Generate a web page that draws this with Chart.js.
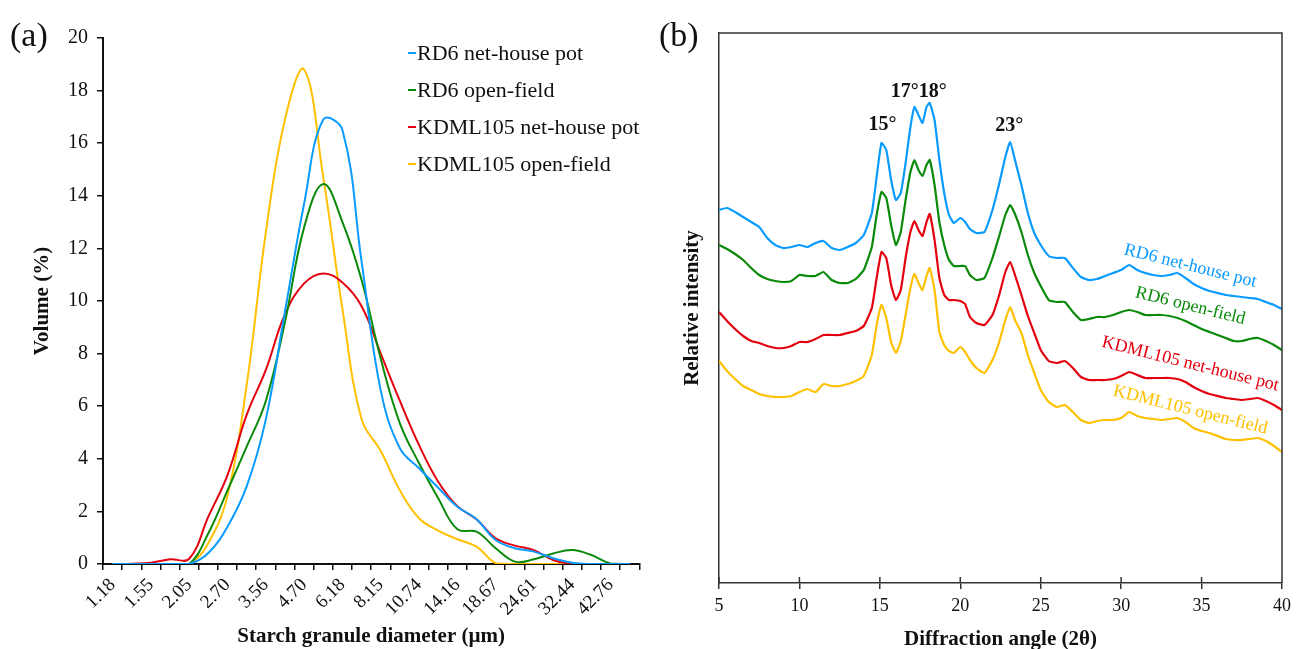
<!DOCTYPE html>
<html lang="en">
<head>
<meta charset="UTF-8">
<title>Starch granule size and XRD</title>
<script src="https://cdn.jsdelivr.net/npm/chart.js"></script>
<style>
  html, body { margin: 0; padding: 0; background: #fff; }
  body { width: 1297px; height: 649px; position: relative; overflow: hidden; font-family: "Liberation Serif", "Times New Roman", serif; }
  .panel { position: absolute; top: 0; height: 649px; }
  #pa { left: 0; width: 650px; }
  #pb { left: 650px; width: 647px; }
  .tag { position: absolute; top: 18px; font-size: 34px; line-height: 1; color: #111; }
</style>
</head>
<body>
<div class="panel" id="pa"><canvas id="chartA"></canvas></div>
<div class="panel" id="pb"><canvas id="chartB"></canvas></div>
<div class="tag" style="left:10px">(a)</div>
<div class="tag" style="left:659px">(b)</div>

<script>
// ---- (a) granule size distribution ----
const sizeLabels = ['1.18','1.35','1.55','1.78','2.05','2.35','2.70','3.10','3.56','4.09','4.70','5.39','6.18','7.10',
  '8.15','9.36','10.74','12.33','14.16','16.26','18.67','21.43','24.61','28.25','32.44','37.24','42.76','49.09'];
const rd6Pot    = [0,0,0,0,0,0.42,1.42,2.95,5.5,9.6,13.7,16.9,16.5,11.5,6.6,4.4,3.64,2.9,2.18,1.7,0.91,0.6,0.47,0.22,0.05,0,0,0];
const rd6Field  = [0,0,0,0,0,1.17,2.8,4.46,6.2,9.2,12.8,14.45,13.0,10.8,7.8,5.35,3.83,2.5,1.32,1.23,0.6,0.09,0.18,0.4,0.53,0.34,0.02,0];
const kdmlPot   = [0,0.01,0.05,0.18,0.2,1.8,3.38,5.67,7.38,9.5,10.67,11.05,10.7,9.8,8.0,6.2,4.52,3.13,2.2,1.7,0.98,0.7,0.53,0.15,0,0,0,0];
const kdmlField = [0,0,0,0,0,0.8,2.6,6.8,12.6,16.9,18.8,14.7,9.7,5.5,4.3,2.8,1.74,1.27,0.94,0.66,0.03,0,0,0,0,0,0,0];

// ---- (b) XRD patterns (arbitrary intensity units, stacked) ----
const angles = [5,5.5,6,6.5,7,7.5,8,8.5,9,9.5,10,10.5,11,11.5,12,12.5,13,13.5,14,14.5,
  14.8,15.1,15.4,15.7,16.0,16.3,16.6,16.9,17.15,17.4,17.65,17.9,18.1,18.4,18.7,19.0,19.3,19.6,
  20.0,20.3,20.6,21.0,21.5,22.0,22.4,22.8,23.1,23.4,23.8,24.2,24.6,25.0,25.5,26.0,26.5,27.0,27.5,28.0,
  28.5,29,29.5,30,30.5,31,31.5,32,32.5,33,33.5,34,34.5,35,35.5,36,36.5,37,37.5,38,38.5,39,39.5,40];
const xrdRd6Pot = [373,375,371,366,361,356,345,338,335,336,338,336,340,342,335,333,336,340,348,370,
  406,440,433,403,383,390,420,456,476,468,460,476,480,463,423,390,368,360,
  365,361,354,350,351,373,398,426,441,423,398,370,350,338,327,325,325,315,306,303,
  304,307,310,313,318,313,310,308,307,308,310,305,299,295,292,290,288,287,286,285,284,281,278,274];
const xrdRd6Field = [338,334,329,323,315,308,304,302,301,302,308,307,307,311,303,300,300,304,313,336,
  368,391,385,358,338,351,383,411,423,413,407,418,423,398,361,338,323,317,
  317,317,308,303,305,325,346,368,378,369,351,328,310,297,283,281,281,271,263,264,
  266,266,268,271,273,271,268,268,268,267,265,262,258,254,251,248,245,242,242,244,245,242,238,233];
const xrdKdmlPot = [271,262,254,247,242,240,237,235,235,237,241,241,244,248,248,248,250,252,257,275,
  305,331,325,298,283,293,325,351,362,353,347,361,369,343,305,288,283,283,
  282,279,266,260,258,268,287,311,321,308,288,267,250,233,222,220,222,215,206,203,
  203,203,204,207,211,208,205,205,205,205,204,201,196,192,189,187,185,184,183,184,185,182,178,173];
const xrdKdmlField = [222,212,204,197,193,189,187,186,186,187,191,194,191,199,197,197,199,202,207,228,
  258,278,265,241,230,242,268,295,309,300,293,307,315,293,251,238,232,230,
  236,231,223,215,210,223,240,263,276,263,250,228,210,193,181,176,178,171,163,160,
  162,163,163,165,171,167,165,164,163,164,165,161,155,152,150,147,144,143,143,144,145,142,137,131];
const angleTicks = [5,10,15,20,25,30,35,40];

const seriesNames = ['RD6 net-house pot','RD6 open-field','KDML105 net-house pot','KDML105 open-field'];
const colors = ['#0a9bff','#0a8a0a','#e3000f','#ffc000'];
const peakLabels = [
  { text: '15°', angle: 15.17, level: 458 },
  { text: '17°18°', angle: 17.42, level: 491 },
  { text: '23°', angle: 23.05, level: 457 }
];
const seriesLabelAngle = 34.3;
const seriesLabelLevels = [317, 277, 219, 173];

const serif = '"Liberation Serif", "Times New Roman", serif';

const legendA = {
  id: 'legendA',
  afterDraw(chart) {
    const { ctx, chartArea: a } = chart;
    ctx.save();
    ctx.font = '22px ' + serif;
    ctx.textBaseline = 'middle';
    chart.data.datasets.forEach((ds, i) => {
      const x = a.left + 305, y = a.top + 15 + i * 37;
      ctx.strokeStyle = ds.borderColor;
      ctx.lineWidth = 2;
      ctx.beginPath(); ctx.moveTo(x, y); ctx.lineTo(x + 8, y); ctx.stroke();
      ctx.fillStyle = '#111';
      ctx.fillText(ds.label, x + 9, y + 1);
    });
    ctx.restore();
  }
};

const boxB = {
  id: 'boxB',
  afterDraw(chart) {
    const { ctx, chartArea: a, scales: { x, y } } = chart;
    ctx.save();
    ctx.strokeStyle = '#333';
    ctx.lineWidth = 1.5;
    ctx.beginPath();
    ctx.moveTo(a.left, a.top); ctx.lineTo(a.right, a.top); ctx.lineTo(a.right, a.bottom);
    angleTicks.forEach(t => {
      const px = x.getPixelForValue(t);
      ctx.moveTo(px, a.bottom); ctx.lineTo(px, a.bottom - 6);
    });
    ctx.stroke();

    ctx.fillStyle = '#111';
    ctx.font = 'bold 20px ' + serif;
    ctx.textAlign = 'center';
    ctx.textBaseline = 'middle';
    peakLabels.forEach(p => ctx.fillText(p.text, x.getPixelForValue(p.angle), y.getPixelForValue(p.level)));

    ctx.font = '18px ' + serif;
    chart.data.datasets.forEach((ds, i) => {
      ctx.save();
      ctx.translate(x.getPixelForValue(seriesLabelAngle), y.getPixelForValue(seriesLabelLevels[i]));
      ctx.rotate(14 * Math.PI / 180);
      ctx.fillStyle = ds.borderColor;
      ctx.fillText(ds.label, 0, 0);
      ctx.restore();
    });
    ctx.restore();
  }
};

new Chart(document.getElementById('chartA'), {
  type: 'line',
  data: {
    labels: sizeLabels,
    datasets: [rd6Pot, rd6Field, kdmlPot, kdmlField].map((d, i) => ({
      label: seriesNames[i], data: d, borderColor: colors[i], borderWidth: 2,
      pointRadius: 0, tension: 0.4, fill: false
    }))
  },
  options: {
    responsive: true, maintainAspectRatio: false, animation: false,
    layout: { padding: { top: 38, right: 7, left: 0, bottom: 0 } },
    plugins: { legend: { display: false }, tooltip: { enabled: false } },
    scales: {
      x: {
        offset: true,
        grid: { offset: true, drawOnChartArea: false, tickLength: 6, color: '#111', lineWidth: 1.5 },
        border: { color: '#111', width: 2 },
        ticks: {
          autoSkip: false, minRotation: 45, maxRotation: 45, padding: 4, color: '#111',
          font: { family: serif, size: 19 },
          callback: (v, i) => (i % 2 ? '' : sizeLabels[i])
        },
        title: { display: true, text: 'Starch granule diameter (µm)', color: '#111',
          font: { family: serif, size: 21, weight: 'bold', lineHeight: 0.9 }, padding: { top: 0, bottom: 3 } },
        afterFit: s => { s.height = 85; }
      },
      y: {
        min: 0, max: 20,
        grid: { drawOnChartArea: false, tickLength: 6, color: '#111', lineWidth: 1.5 },
        border: { color: '#111', width: 2 },
        ticks: { stepSize: 2, padding: 9, color: '#111', font: { family: serif, size: 20 } },
        title: { display: true, text: 'Volume (%)', color: '#111',
          font: { family: serif, size: 21, weight: 'bold' }, padding: { top: 30, bottom: 0 } },
        afterFit: s => { s.width = 103; }
      }
    }
  },
  plugins: [legendA]
});

new Chart(document.getElementById('chartB'), {
  type: 'line',
  data: {
    datasets: [xrdRd6Pot, xrdRd6Field, xrdKdmlPot, xrdKdmlField].map((d, i) => ({
      label: seriesNames[i], data: angles.map((a, j) => ({ x: a, y: d[j] })),
      borderColor: colors[i], borderWidth: 2.2, pointRadius: 0, tension: 0.15, fill: false
    }))
  },
  options: {
    responsive: true, maintainAspectRatio: false, animation: false,
    layout: { padding: { top: 33, right: 11, left: 0, bottom: 0 } },
    plugins: { legend: { display: false }, tooltip: { enabled: false } },
    scales: {
      x: {
        type: 'linear', min: 5, max: 40,
        grid: { drawOnChartArea: false, tickLength: 6, color: '#333', lineWidth: 1.5 },
        border: { color: '#333', width: 1.5 },
        ticks: { stepSize: 5, padding: 6, color: '#111', font: { family: serif, size: 18 } },
        title: { display: true, text: 'Diffraction angle (2θ)', color: '#111',
          font: { family: serif, size: 21, weight: 'bold', lineHeight: 0.9 }, padding: { top: 0, bottom: 0 } },
        afterFit: s => { s.height = 66; }
      },
      y: {
        min: 0, max: 550,
        grid: { display: false },
        border: { color: '#333', width: 1.5 },
        ticks: { display: false },
        title: { display: true, text: 'Relative intensity', color: '#111',
          font: { family: serif, size: 21, weight: 'bold' }, padding: { top: 30, bottom: 0 } },
        afterFit: s => { s.width = 69; }
      }
    }
  },
  plugins: [boxB]
});
</script>
</body>
</html>
